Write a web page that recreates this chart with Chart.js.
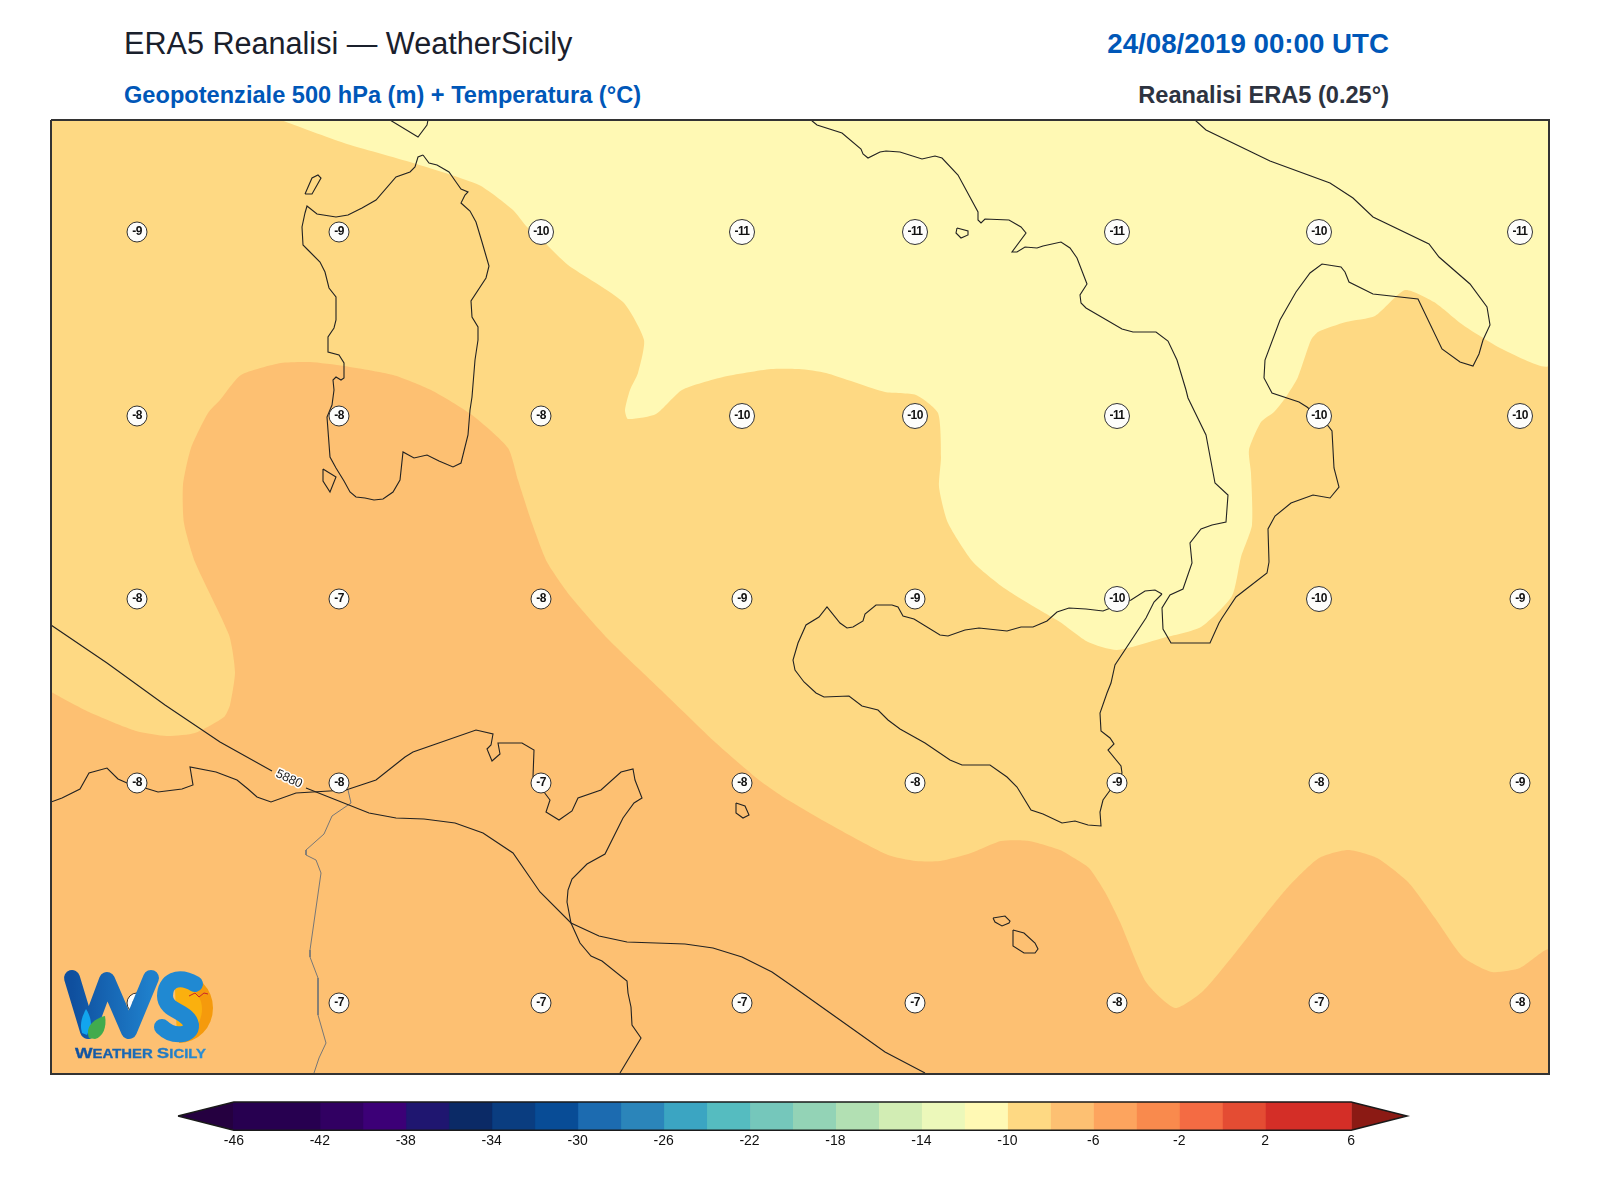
<!DOCTYPE html>
<html lang="it">
<head>
<meta charset="utf-8">
<title>ERA5 Reanalisi — WeatherSicily</title>
<script src="https://cdn.jsdelivr.net/npm/chart.js@4"></script>
<style>
    html, body { margin: 0; padding: 0; background: #fff; }
    body { position: relative; width: 1600px; height: 1200px; overflow: hidden; font-family: "Liberation Sans", Arial, sans-serif; }
    canvas { position: absolute; left: 0; display: block; }
    .txt { position: absolute; line-height: 1; white-space: nowrap; }
    #logo { position: absolute; left: 55px; top: 965px; }
</style>
</head>
<body>
<div class="txt" style="left:124px;top:28px;font-size:30.6px;color:#1a202c">ERA5 Reanalisi — WeatherSicily</div>
<div class="txt" style="left:124px;top:84px;font-size:23.6px;font-weight:bold;color:#0057b8">Geopotenziale 500 hPa (m) + Temperatura (°C)</div>
<div class="txt" style="right:211px;top:30px;font-size:27.7px;font-weight:bold;color:#0057b8">24/08/2019 00:00 UTC</div>
<div class="txt" style="right:211px;top:84px;font-size:23.6px;font-weight:bold;color:#2d3340">Reanalisi ERA5 (0.25°)</div>

<canvas id="mapChart" width="1600" height="1200" style="top:0"></canvas>
<canvas id="barChart" width="1600" height="70" style="top:1095px"></canvas>

<svg id="logo" width="170" height="105" viewBox="0 0 170 105">
    <defs>
        <linearGradient id="wGrad" x1="0" y1="0" x2="1" y2="0">
            <stop offset="0" stop-color="#0f4f9e"/><stop offset="1" stop-color="#1f80cc"/>
        </linearGradient>
        <linearGradient id="tGrad" x1="0" y1="0" x2="1" y2="0">
            <stop offset="0" stop-color="#0f4f9e"/><stop offset="1" stop-color="#2a8fd6"/>
        </linearGradient>
    </defs>
    <path d="M124 8 A34 35 0 0 1 124 78 Z" fill="#f59a0c"/>
    <path d="M120 24 C132 16 147 28 147 44 C147 60 135 70 122 74 Z" fill="#fbb00e"/>
    <polyline points="17,13 33,66 52,15 74,66 96,13" fill="none" stroke="url(#wGrad)" stroke-width="16" stroke-linejoin="round" stroke-linecap="round"/>
    <path d="M140 19 C123 9 110 16 110 31 C110 47 134 46 136 60 C137 71 118 73 107 62" fill="none" stroke="#2089d2" stroke-width="16" stroke-linecap="round"/>
    <path d="M27 68 C24 58 28 50 31 44 C35 50 36 56 36 60 L32 70 Z" fill="#12a5ee"/>
    <path d="M34 73 C30 62 38 54 50 51 C52 62 48 72 40 74 Z" fill="#41ab4d"/>
    <path d="M134 31 L140 28 L144 32 L149 28 L153 29" fill="none" stroke="#c8242c" stroke-width="1"/>
    <text x="20" y="93" font-family="Liberation Sans" font-weight="bold" fill="url(#tGrad)" stroke="url(#tGrad)" stroke-width="0.3" textLength="131" lengthAdjust="spacingAndGlyphs"><tspan font-size="15">W</tspan><tspan font-size="12">EATHER </tspan><tspan font-size="15">S</tspan><tspan font-size="12">ICILY</tspan></text>
</svg>

<script>
// map grid: x from the west edge of the frame, y from its north edge
const gridWidth = 1498;
const gridHeight = 954;

// T500 labels
const tempXs = [86, 288, 490, 691, 864, 1066, 1268, 1469];
const tempYs = [112, 296, 479, 663, 883];
const tempRow1 = [-9, -9, -10, -11, -11, -11, -10, -11];
const tempRow2 = [-8, -8, -8, -10, -10, -11, -10, -10];
const tempRow3 = [-8, -7, -8, -9, -9, -10, -10, -9];
const tempRow4 = [-8, -8, -7, -8, -8, -9, -8, -9];
const tempRow5 = [-7, -7, -7, -7, -7, -8, -7, -8];

// colour bands of the map
const bandMid = [[0, 0], [1498, 0], [1498, 954], [0, 954]];
const bandCold = [[230, 0], [293, 23], [362, 43], [428, 65], [462, 90], [476, 107], [493, 122], [517, 145], [572, 182], [593, 220], [587, 253], [579, 270], [574, 290], [577, 299], [605, 294], [631, 270], [672, 257], [720, 249], [748, 249], [775, 253], [834, 272], [865, 275], [887, 293], [890, 337], [888, 367], [897, 403], [922, 442], [953, 468], [992, 492], [1009, 502], [1037, 522], [1066, 530], [1112, 518], [1150, 507], [1181, 476], [1190, 437], [1201, 405], [1200, 353], [1198, 330], [1210, 302], [1223, 292], [1235, 277], [1247, 257], [1260, 220], [1267, 212], [1295, 202], [1324, 196], [1354, 170], [1383, 182], [1412, 205], [1453, 230], [1498, 245], [1498, 0]];
const bandColder = [[703, 0], [720, 4], [741, 4], [751, 0]];
const bandWarm = [[0, 572], [38, 592], [85, 611], [116, 616], [144, 613], [173, 597], [179, 585], [184, 552], [178, 515], [144, 442], [133, 403], [132, 365], [140, 328], [157, 293], [169, 280], [190, 255], [230, 243], [259, 242], [293, 246], [342, 255], [380, 270], [421, 295], [457, 328], [467, 360], [481, 403], [496, 442], [520, 477], [558, 520], [610, 570], [665, 623], [708, 660], [737, 680], [789, 710], [837, 735], [865, 741], [889, 741], [920, 733], [950, 721], [978, 721], [1009, 730], [1023, 738], [1038, 748], [1054, 772], [1069, 802], [1095, 862], [1124, 888], [1151, 872], [1181, 837], [1214, 795], [1238, 766], [1268, 738], [1297, 730], [1326, 738], [1357, 762], [1384, 798], [1412, 837], [1441, 852], [1469, 848], [1498, 830], [1498, 954], [0, 954]];

// coastlines
const sardinia = [[372, 35], [378, 43], [386, 45], [398, 52], [405, 62], [410, 69], [417, 72], [414, 75], [410, 83], [419, 91], [425, 102], [431, 122], [438, 146], [435, 158], [420, 181], [421, 197], [427, 207], [427, 220], [424, 240], [421, 277], [419, 290], [417, 315], [410, 343], [402, 347], [388, 341], [376, 335], [363, 338], [352, 332], [349, 360], [342, 372], [332, 379], [323, 380], [314, 378], [305, 377], [299, 372], [293, 361], [285, 348], [279, 337], [276, 297], [281, 285], [283, 270], [282, 260], [285, 257], [290, 260], [293, 258], [293, 243], [288, 235], [277, 232], [277, 217], [283, 208], [285, 200], [285, 177], [278, 168], [274, 152], [269, 142], [257, 130], [252, 125], [251, 107], [254, 93], [256, 86], [266, 94], [285, 97], [297, 95], [311, 88], [325, 80], [345, 57], [359, 52], [364, 47], [367, 37], [372, 35]];
const asinara = [[254, 74], [261, 74], [270, 58], [267, 55], [261, 58], [254, 74]];
const corsica = [[339, 0], [367, 17], [376, 5], [377, 0]];
const santAntioco = [[272, 349], [285, 357], [279, 372], [272, 361], [272, 349]];
const italy = [[760, 0], [766, 5], [791, 13], [810, 29], [812, 34], [817, 38], [829, 32], [835, 31], [849, 32], [871, 39], [884, 36], [891, 38], [907, 55], [927, 92], [927, 100], [930, 103], [934, 99], [958, 100], [970, 107], [975, 113], [961, 132], [966, 132], [974, 127], [986, 128], [992, 126], [1010, 122], [1019, 128], [1026, 138], [1036, 164], [1029, 175], [1030, 183], [1035, 188], [1071, 209], [1082, 212], [1105, 212], [1117, 221], [1126, 240], [1135, 270], [1137, 278], [1155, 315], [1161, 347], [1164, 363], [1177, 375], [1175, 402], [1161, 405], [1150, 409], [1139, 423], [1141, 443], [1132, 469], [1119, 475], [1111, 488], [1112, 509], [1120, 523], [1159, 523], [1168, 503], [1171, 498], [1185, 477], [1216, 453], [1218, 442], [1217, 409], [1224, 396], [1240, 383], [1262, 375], [1279, 378], [1288, 367], [1283, 348], [1281, 311], [1274, 302], [1256, 287], [1248, 282], [1221, 273], [1213, 258], [1214, 240], [1229, 200], [1245, 172], [1259, 153], [1271, 144], [1290, 147], [1294, 152], [1298, 162], [1322, 174], [1367, 179], [1391, 229], [1409, 242], [1422, 246], [1428, 234], [1432, 220], [1439, 205], [1436, 187], [1419, 164], [1388, 137], [1378, 124], [1322, 97], [1302, 78], [1279, 63], [1219, 41], [1155, 10], [1144, 0]];
const ischia = [[906, 108], [917, 111], [917, 115], [910, 118], [905, 113], [906, 108]];
const sicily = [[1111, 474], [1104, 470], [1094, 471], [1080, 480], [1052, 491], [1035, 489], [1018, 488], [1006, 492], [996, 501], [982, 507], [970, 507], [956, 511], [928, 508], [914, 510], [897, 516], [889, 515], [863, 499], [852, 496], [847, 487], [841, 485], [825, 485], [814, 494], [812, 501], [802, 507], [796, 508], [789, 503], [776, 487], [768, 497], [755, 505], [747, 523], [742, 540], [744, 550], [753, 562], [765, 573], [773, 577], [798, 576], [811, 586], [827, 590], [837, 600], [849, 609], [874, 623], [899, 640], [911, 645], [939, 645], [956, 657], [966, 667], [980, 690], [992, 694], [1011, 703], [1024, 701], [1037, 705], [1050, 706], [1049, 692], [1052, 680], [1060, 669], [1071, 653], [1070, 646], [1057, 630], [1063, 624], [1059, 618], [1050, 611], [1049, 593], [1056, 573], [1060, 563], [1064, 545], [1095, 498], [1103, 482], [1111, 474]];
const pantelleria = [[685, 683], [694, 686], [698, 695], [692, 698], [685, 693], [685, 683]];
const gozo = [[942, 798], [954, 796], [959, 801], [958, 803], [951, 806], [944, 802], [942, 798]];
const malta = [[962, 810], [973, 813], [984, 823], [987, 829], [984, 833], [973, 833], [962, 826], [962, 810]];
const africa = [[0, 682], [11, 678], [29, 669], [38, 653], [56, 648], [67, 659], [76, 663], [94, 668], [107, 672], [131, 669], [142, 665], [139, 647], [165, 652], [186, 660], [197, 669], [206, 677], [220, 682], [245, 673], [295, 670], [325, 660], [354, 637], [362, 632], [425, 610], [442, 614], [440, 625], [436, 629], [441, 641], [449, 634], [447, 623], [471, 623], [483, 630], [482, 657], [493, 672], [499, 680], [495, 692], [508, 700], [521, 691], [527, 678], [550, 670], [570, 652], [582, 649], [584, 660], [591, 678], [583, 683], [572, 698], [554, 734], [536, 744], [521, 759], [517, 770], [516, 782], [520, 803], [529, 823], [540, 836], [551, 841], [576, 861], [577, 873], [580, 887], [581, 905], [590, 918], [569, 953]];
const coastlines = [sardinia, asinara, corsica, santAntioco, italy, ischia, sicily, pantelleria, gozo, malta, africa];
const frontier = [[297, 670], [300, 683], [281, 696], [273, 714], [255, 730], [255, 735], [265, 740], [270, 753], [259, 830], [259, 837], [267, 858], [267, 895], [275, 923], [268, 938], [263, 953]];

// 5880 m geopotential contour, broken at its label
const contourWest = [[0, 505], [56, 543], [114, 585], [169, 622], [221, 651]];
const contourEast = [[255, 668], [318, 693], [345, 698], [373, 699], [404, 703], [432, 713], [462, 733], [489, 772], [520, 803], [548, 816], [576, 822], [634, 824], [662, 828], [691, 837], [721, 852], [744, 868], [782, 895], [834, 932], [874, 953]];
const contourLabel = '5880';
const contourLabelAt = [238, 659];

// colour bar
const barTicks = [-46, -42, -38, -34, -30, -26, -22, -18, -14, -10, -6, -2, 2, 6];
const barLevels = [-46, -42, -40, -38, -36, -34, -32, -30, -28, -26, -24, -22, -20, -18, -16, -14, -12, -10, -8, -6, -4, -2, 0, 2, 6];
const barColours = ['#270050', '#310062', '#3c0077', '#1f1670', '#0b2a66', '#0a3d80', '#084c96', '#1c6bb0', '#2b85ba', '#3ba5c2', '#55bcc0', '#75c7bb', '#93d3b6', '#b2e0b3', '#d2edb4', '#ecf8ba', '#fff9b4', '#fed983', '#fdc072', '#fda45e', '#f98a4d', '#f46b43', '#e44c33', '#d42e27'];
const barUnder = '#250040';
const barOver = '#8b1a14';
const barTipLength = 2.6;

const tempRows = [tempRow1, tempRow2, tempRow3, tempRow4, tempRow5];
const tempPoints = [];
const tempLabels = [];
tempRows.forEach((row, r) => row.forEach((v, c) => {
    tempPoints.push([tempXs[c], tempYs[r]]);
    tempLabels.push(String(v));
}));

const band = (data, colour, order) => ({
    data: data, showLine: true, fill: 'shape', backgroundColor: colour,
    borderWidth: 0, pointRadius: 0, order: order
});
const line = (data, colour, width, order) => ({
    data: data, showLine: true, fill: false, borderColor: colour,
    borderWidth: width, pointRadius: 0, order: order
});
const smooth = (ds) => Object.assign(ds, { tension: 0.2 });

// writes the temperatures in their circles and the contour label
const mapLabels = {
    id: 'mapLabels',
    afterDatasetsDraw(chart) {
        const ctx = chart.ctx;
        const meta = chart.getDatasetMeta(0);
        ctx.save();
        ctx.font = 'bold 12px "Liberation Sans"';
        ctx.textAlign = 'center';
        ctx.textBaseline = 'middle';
        ctx.fillStyle = '#111';
        ctx.letterSpacing = '-0.6px';
        meta.data.forEach((pt, i) => ctx.fillText(tempLabels[i], pt.x, pt.y));
        ctx.letterSpacing = '0px';
        ctx.translate(chart.scales.x.getPixelForValue(contourLabelAt[0]), chart.scales.y.getPixelForValue(contourLabelAt[1]));
        ctx.rotate(25 * Math.PI / 180);
        ctx.font = '12.5px "Liberation Sans"';
        ctx.strokeStyle = '#fff';
        ctx.lineWidth = 3;
        ctx.lineJoin = 'round';
        ctx.strokeText(contourLabel, 0, 0);
        ctx.fillStyle = '#222';
        ctx.fillText(contourLabel, 0, 0);
        ctx.restore();
    }
};

const mapDatasets = [
    {
        data: tempPoints, showLine: false, order: 0,
        pointRadius: tempLabels.map(t => t.length > 2 ? 12.5 : 10),
        pointBackgroundColor: '#fdfdfb', pointBorderColor: '#333', pointBorderWidth: 1
    },
    Object.assign(line([[0, 0], [gridWidth, 0], [gridWidth, gridHeight], [0, gridHeight], [0, 0]], '#333', 2, 1), { clip: false }),
    ...coastlines.map(c => line(c, '#222', 1.1, 2)),
    line(contourWest, '#222', 1.1, 3),
    line(contourEast, '#222', 1.1, 3),
    line(frontier, '#777', 1, 4),
    smooth(band(bandWarm, '#fdc072', 5)),
    smooth(band(bandCold, '#fff9b4', 6)),
    band(bandColder, '#ecf8ba', 7),
    band(bandMid, '#fed983', 8)
];

new Chart(document.getElementById('mapChart'), {
    type: 'scatter',
    data: { datasets: mapDatasets },
    plugins: [mapLabels],
    options: {
        responsive: false,
        devicePixelRatio: 1,
        animation: false,
        layout: { padding: { left: 51, right: 51, top: 120, bottom: 126 } },
        plugins: { legend: { display: false }, tooltip: { enabled: false } },
        scales: {
            x: { type: 'linear', display: false, min: 0, max: gridWidth },
            y: { type: 'linear', display: false, min: 0, max: gridHeight, reverse: true }
        }
    }
});

// colour bar: one closed shape per level, with the two end tips
const barMin = barLevels[0];
const barMax = barLevels[barLevels.length - 1];
const barDatasets = [
    Object.assign(line([[barMin - barTipLength, 0.5], [barMin, 1], [barMax, 1], [barMax + barTipLength, 0.5], [barMax, 0], [barMin, 0], [barMin - barTipLength, 0.5]], '#1a1a1a', 1.5, 0), { clip: false })
];
barColours.forEach((colour, i) => {
    const lo = barLevels[i];
    const hi = barLevels[i + 1];
    const ds = band([[lo, 0], [hi, 0], [hi, 1], [lo, 1], [lo, 0]], colour, 1);
    ds.borderWidth = 1;
    ds.borderColor = colour;
    barDatasets.push(ds);
});
barDatasets.push(band([[barMin - barTipLength, 0.5], [barMin, 1], [barMin, 0]], barUnder, 1));
barDatasets.push(band([[barMax + barTipLength, 0.5], [barMax, 1], [barMax, 0]], barOver, 1));

new Chart(document.getElementById('barChart'), {
    type: 'scatter',
    data: { datasets: barDatasets },
    options: {
        responsive: false,
        devicePixelRatio: 1,
        animation: false,
        layout: { padding: { left: 178, right: 193, top: 7, bottom: 20 } },
        plugins: { legend: { display: false }, tooltip: { enabled: false } },
        scales: {
            x: {
                type: 'linear',
                min: barMin - barTipLength,
                max: barMax + barTipLength,
                grid: { display: false },
                border: { display: false },
                afterBuildTicks: axis => { axis.ticks = barTicks.map(v => ({ value: v })); },
                ticks: {
                    autoSkip: false, maxRotation: 0, padding: -5, color: '#111',
                    font: { family: 'Liberation Sans', size: 14 },
                    callback: v => String(v)
                }
            },
            y: { type: 'linear', display: false, min: 0, max: 1 }
        }
    }
});
</script>
</body>
</html>
